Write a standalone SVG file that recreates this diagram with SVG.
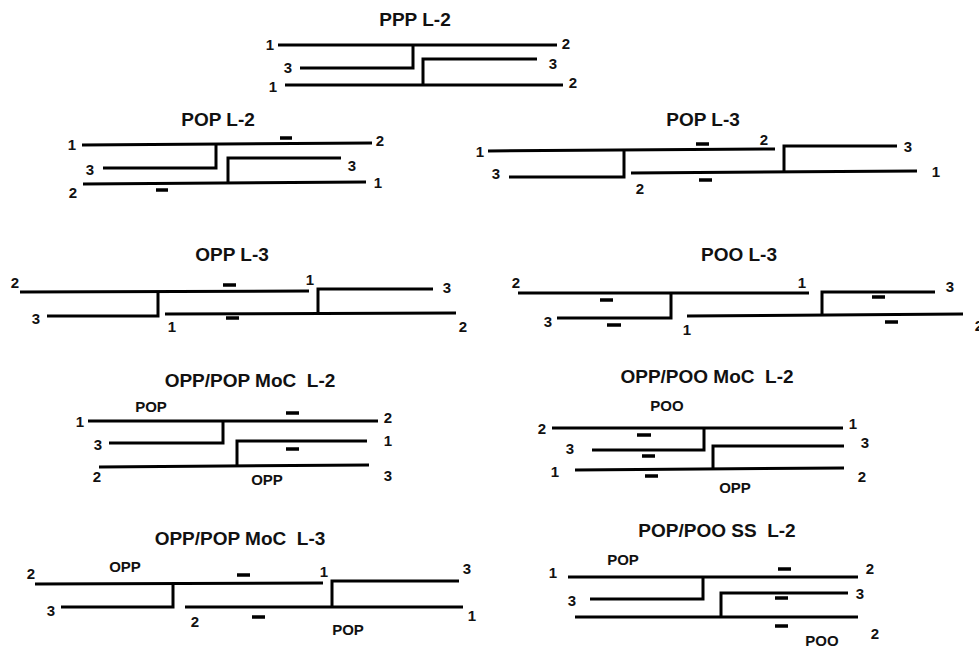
<svg xmlns="http://www.w3.org/2000/svg" width="979" height="648" viewBox="0 0 979 648">
<style>
.ln{stroke:#000;stroke-width:3;fill:none;stroke-linejoin:miter}
.ds{stroke:#000;stroke-width:3.5}
.t{font-family:"Liberation Sans",Arial,sans-serif;font-weight:bold;font-size:19px;text-anchor:middle;fill:#111;white-space:pre}
.n{font-family:"Liberation Sans",Arial,sans-serif;font-weight:bold;font-size:15px;text-anchor:middle;fill:#111}
.s{font-family:"Liberation Sans",Arial,sans-serif;font-weight:bold;font-size:15px;text-anchor:middle;fill:#111}
</style>
<rect width="979" height="648" fill="#fff"/>

<g id="ppp-l2">
<text class="t" x="415" y="26">PPP L-2</text>
<g class="connectors">
<path class="ln" d="M278,45 H557"/>
<path class="ln" d="M300,68 H413 V45"/>
<path class="ln" d="M423,85 V59 H537"/>
<path class="ln" d="M285,85 H563"/>
</g>
<text class="n" x="270" y="50">1</text>
<text class="n" x="566" y="49">2</text>
<text class="n" x="288" y="73">3</text>
<text class="n" x="553" y="69">3</text>
<text class="n" x="273" y="92">1</text>
<text class="n" x="573" y="88">2</text>
</g>

<g id="pop-l2">
<text class="t" x="218" y="126">POP L-2</text>
<g class="connectors">
<path class="ln" d="M82,145 L372,143"/>
<path class="ln" d="M103,168 H216 V144"/>
<path class="ln" d="M228,182 V158 H341"/>
<path class="ln" d="M83,184 L366,182"/>
<line class="ds" x1="280" y1="138" x2="292" y2="138"/>
<line class="ds" x1="156" y1="190" x2="168" y2="190"/>
</g>
<text class="n" x="72" y="150">1</text>
<text class="n" x="380" y="146">2</text>
<text class="n" x="90" y="175">3</text>
<text class="n" x="352" y="171">3</text>
<text class="n" x="73" y="198">2</text>
<text class="n" x="378" y="188">1</text>
</g>

<g id="pop-l3">
<text class="t" x="703" y="126">POP L-3</text>
<g class="connectors">
<path class="ln" d="M488,151 L775,149"/>
<path class="ln" d="M509,177 H624 V150"/>
<path class="ln" d="M631,173 L917,171"/>
<path class="ln" d="M784,172 V146 H897"/>
<line class="ds" x1="696" y1="144" x2="709" y2="144"/>
<line class="ds" x1="699" y1="180" x2="712" y2="180"/>
</g>
<text class="n" x="480" y="157">1</text>
<text class="n" x="764" y="145">2</text>
<text class="n" x="496" y="179">3</text>
<text class="n" x="640" y="194">2</text>
<text class="n" x="936" y="177">1</text>
<text class="n" x="908" y="152">3</text>
</g>

<g id="opp-l3">
<text class="t" x="232" y="261">OPP L-3</text>
<g class="connectors">
<path class="ln" d="M20,292 L309,291"/>
<path class="ln" d="M47,316 H158 V292"/>
<path class="ln" d="M165,314 L456,313"/>
<path class="ln" d="M318,313 V289 H433"/>
<line class="ds" x1="223" y1="285" x2="236" y2="285"/>
<line class="ds" x1="226" y1="318" x2="239" y2="318"/>
</g>
<text class="n" x="15" y="288">2</text>
<text class="n" x="310" y="285">1</text>
<text class="n" x="36" y="324">3</text>
<text class="n" x="172" y="332">1</text>
<text class="n" x="463" y="332">2</text>
<text class="n" x="447" y="293">3</text>
</g>

<g id="poo-l3">
<text class="t" x="739" y="261">POO L-3</text>
<g class="connectors">
<path class="ln" d="M518,293 H809"/>
<path class="ln" d="M557,318 H671 V293"/>
<path class="ln" d="M687,316 L963,314"/>
<path class="ln" d="M822,315 V292 H935"/>
<line class="ds" x1="600" y1="300" x2="613" y2="300"/>
<line class="ds" x1="607" y1="325" x2="621" y2="325"/>
<line class="ds" x1="872" y1="297" x2="885" y2="297"/>
<line class="ds" x1="885" y1="322" x2="898" y2="322"/>
</g>
<text class="n" x="516" y="288">2</text>
<text class="n" x="802" y="288">1</text>
<text class="n" x="548" y="327">3</text>
<text class="n" x="687" y="335">1</text>
<text class="n" x="950" y="292">3</text>
<text class="n" x="979" y="331">2</text>
</g>

<g id="opp-pop-moc-l2">
<text class="t" x="250" y="387">OPP/POP MoC  L-2</text>
<text class="s" x="151" y="412">POP</text>
<g class="connectors">
<path class="ln" d="M88,421 H378"/>
<path class="ln" d="M109,443 H223 V421"/>
<path class="ln" d="M237,466 V441 H367"/>
<path class="ln" d="M99,467 L369,465"/>
<line class="ds" x1="286" y1="413" x2="299" y2="413"/>
<line class="ds" x1="286" y1="449" x2="299" y2="449"/>
</g>
<text class="n" x="80" y="427">1</text>
<text class="n" x="388" y="423">2</text>
<text class="n" x="98" y="450">3</text>
<text class="n" x="388" y="446">1</text>
<text class="n" x="97" y="482">2</text>
<text class="n" x="388" y="481">3</text>
<text class="s" x="267" y="485">OPP</text>
</g>

<g id="opp-poo-moc-l2">
<text class="t" x="707" y="383">OPP/POO MoC  L-2</text>
<text class="s" x="667" y="411">POO</text>
<g class="connectors">
<path class="ln" d="M552,428 H843"/>
<path class="ln" d="M592,450 H704 V428"/>
<path class="ln" d="M713,468 V446 H844"/>
<path class="ln" d="M575,470 L844,468"/>
<line class="ds" x1="637" y1="435" x2="651" y2="435"/>
<line class="ds" x1="642" y1="456" x2="655" y2="456"/>
<line class="ds" x1="645" y1="476" x2="658" y2="476"/>
</g>
<text class="n" x="542" y="434">2</text>
<text class="n" x="853" y="429">1</text>
<text class="n" x="570" y="454">3</text>
<text class="n" x="865" y="448">3</text>
<text class="n" x="555" y="477">1</text>
<text class="n" x="862" y="482">2</text>
<text class="s" x="735" y="493">OPP</text>
</g>

<g id="opp-pop-moc-l3">
<text class="t" x="240" y="545">OPP/POP MoC  L-3</text>
<text class="s" x="125" y="572">OPP</text>
<g class="connectors">
<path class="ln" d="M35,584 L323,583"/>
<path class="ln" d="M61,607 H173 V584"/>
<path class="ln" d="M185,607 H463"/>
<path class="ln" d="M332,607 V581 H459"/>
<line class="ds" x1="237" y1="575" x2="250" y2="575"/>
<line class="ds" x1="252" y1="617" x2="265" y2="617"/>
</g>
<text class="n" x="31" y="579">2</text>
<text class="n" x="324" y="577">1</text>
<text class="n" x="51" y="616">3</text>
<text class="n" x="195" y="627">2</text>
<text class="n" x="472" y="621">1</text>
<text class="n" x="467" y="574">3</text>
<text class="s" x="348" y="635">POP</text>
</g>

<g id="pop-poo-ss-l2">
<text class="t" x="717" y="537">POP/POO SS  L-2</text>
<text class="s" x="623" y="565">POP</text>
<g class="connectors">
<path class="ln" d="M568,577 H858"/>
<path class="ln" d="M590,599 H703 V577"/>
<path class="ln" d="M721,617 V593 H848"/>
<path class="ln" d="M575,617 H858"/>
<line class="ds" x1="778" y1="569" x2="791" y2="569"/>
<line class="ds" x1="775" y1="598" x2="788" y2="598"/>
<line class="ds" x1="775" y1="626" x2="788" y2="626"/>
</g>
<text class="n" x="553" y="578">1</text>
<text class="n" x="870" y="574">2</text>
<text class="n" x="572" y="606">3</text>
<text class="n" x="860" y="599">3</text>
<text class="n" x="875" y="639">2</text>
<text class="s" x="822" y="646">POO</text>
</g>
</svg>
